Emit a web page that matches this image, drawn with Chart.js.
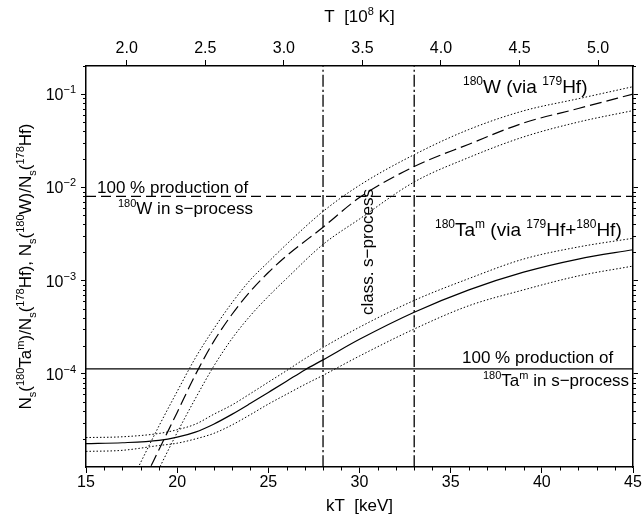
<!DOCTYPE html>
<html>
<head>
<meta charset="utf-8">
<script src="https://cdn.jsdelivr.net/npm/chart.js@4/dist/chart.umd.min.js"></script>
<style>
  body { margin: 0; background: #fff; }
  #wrap { width: 642px; height: 515px; }
</style>
</head>
<body>
<div id="wrap"><canvas id="grafico" width="642" height="515"></canvas></div>
<script>
/* Datos */
var kT_Ta = [15, 17, 19, 20, 21, 22, 23, 24, 25, 26, 27, 28, 30, 33, 36, 39, 42, 45];
var taCentral = [1.78e-5, 1.82e-5, 1.93e-5, 2.09e-5, 2.37e-5, 2.88e-5, 3.67e-5, 4.79e-5, 6.31e-5, 8.32e-5, 1.10e-4, 1.41e-4, 2.34e-4, 4.57e-4, 7.94e-4, 1.23e-3, 1.70e-3, 2.14e-3];
var taUpper = [2.07e-5, 2.11e-5, 2.29e-5, 2.51e-5, 2.88e-5, 3.67e-5, 4.62e-5, 6.10e-5, 8.13e-5, 1.08e-4, 1.45e-4, 1.91e-4, 3.16e-4, 6.12e-4, 1.05e-3, 1.70e-3, 2.29e-3, 2.84e-3];
var taLower = [1.47e-5, 1.51e-5, 1.70e-5, 1.80e-5, 2.00e-5, 2.29e-5, 2.82e-5, 3.63e-5, 4.73e-5, 6.03e-5, 7.67e-5, 9.62e-5, 1.55e-4, 3.02e-4, 5.37e-4, 7.94e-4, 1.12e-3, 1.43e-3];

var kT_W = [17, 18, 19, 20, 21, 22, 23, 24, 25, 26, 28, 30, 33, 36, 39, 42, 45];
var wCentral = [2.24e-6, 6.03e-6, 1.53e-5, 3.85e-5, 9.77e-5, 2.21e-4, 4.32e-4, 7.59e-4, 1.22e-3, 1.84e-3, 3.73e-3, 7.76e-3, 1.67e-2, 2.90e-2, 4.90e-2, 7.00e-2, 1.00e-1];
var wUpper = [4.47e-6, 1.12e-5, 2.75e-5, 6.46e-5, 1.48e-4, 3.02e-4, 5.75e-4, 1.01e-3, 1.58e-3, 2.45e-3, 5.51e-3, 1.05e-2, 2.24e-2, 4.17e-2, 6.61e-2, 8.91e-2, 1.20e-1];
var wLower = [1.58e-6, 3.80e-6, 9.55e-6, 2.34e-5, 5.43e-5, 1.20e-4, 2.37e-4, 4.17e-4, 6.76e-4, 1.05e-3, 2.44e-3, 4.57e-3, 1.14e-2, 2.09e-2, 3.47e-2, 5.01e-2, 6.65e-2];

var wFullProd = 8.0e-3;     // 100 % produccion de 180W
var taFullProd = 1.13e-4;   // 100 % produccion de 180Ta^m
var classicalKT = [28, 33]; // rango del proceso s clasico

var kTRange = [15, 45];
var yRange = [1e-5, 0.2];
var kTTicks = [15, 20, 25, 30, 35, 40, 45];
var tTicks = [2.0, 2.5, 3.0, 3.5, 4.0, 4.5, 5.0];
var yDecades = [-1, -2, -3, -4];
var keVper1e8K = 8.617;

var FONT = "'Liberation Sans', Arial, Helvetica, sans-serif";

function puntos(xs, ys) {
    return xs.map(function (x, i) { return { x: x, y: ys[i] }; });
}

function linea(data, dash, width) {
    return {
        data: data,
        borderColor: '#000',
        borderWidth: width || 1,
        borderDash: dash || [],
        pointRadius: 0,
        fill: false,
        cubicInterpolationMode: 'monotone',
        xAxisID: 'x',
        yAxisID: 'y'
    };
}

/* texto con super y subindices: [texto, tipo] tipo '' | '^' | '_' */
function textoRico(ctx, partes, x, y, size, align, rot) {
    var small = Math.round(size * 0.64);
    ctx.save();
    ctx.translate(x, y);
    ctx.rotate(rot || 0);
    ctx.textBaseline = 'alphabetic';
    ctx.textAlign = 'left';
    var total = 0;
    partes.forEach(function (p) {
        ctx.font = (p[1] ? small : size) + 'px ' + FONT;
        total += ctx.measureText(p[0]).width;
    });
    var cx = align === 'center' ? -total / 2 : (align === 'right' ? -total : 0);
    partes.forEach(function (p) {
        ctx.font = (p[1] ? small : size) + 'px ' + FONT;
        var dy = p[1] === '^' ? -size * 0.42 : (p[1] === '_' ? size * 0.28 : 0);
        ctx.fillText(p[0], cx, dy);
        cx += ctx.measureText(p[0]).width;
    });
    ctx.restore();
}

var extras = {
    id: 'extras',
    afterDraw: function (chart) {
        var ctx = chart.ctx;
        var area = chart.chartArea;
        var sx = chart.scales.x, sy = chart.scales.y;
        ctx.save();
        ctx.fillStyle = '#000';
        ctx.strokeStyle = '#000';
        ctx.lineWidth = 1;

        /* marcas menores */
        ctx.beginPath();
        for (var k = kTRange[0] + 1; k < kTRange[1]; k++) {
            if (k % 5 === 0) continue;
            var px = Math.round(sx.getPixelForValue(k)) + 0.5;
            ctx.moveTo(px, area.bottom);
            ctx.lineTo(px, area.bottom + 3.5);
        }
        for (var d = -5; d <= -1; d++) {
            for (var m = 2; m <= 9; m++) {
                var v = m * Math.pow(10, d);
                if (v > yRange[1] * 1.001) continue;
                var py = Math.round(sy.getPixelForValue(v)) + 0.5;
                ctx.moveTo(area.left, py);
                ctx.lineTo(area.left - 3, py);
                ctx.moveTo(area.right, py);
                ctx.lineTo(area.right + 3, py);
            }
        }
        ctx.stroke();

        /* etiquetas del eje y: 10^-n */
        yDecades.forEach(function (d) {
            var py = sy.getPixelForValue(Math.pow(10, d));
            ctx.font = '11px ' + FONT;
            var ew = ctx.measureText('\u2212' + (-d)).width;
            ctx.textAlign = 'right';
            ctx.textBaseline = 'alphabetic';
            ctx.fillText('\u2212' + (-d), 76, py - 1);
            ctx.font = '16px ' + FONT;
            ctx.fillText('10', 76 - ew, py + 6);
        });

        /* titulos de los ejes */
        textoRico(ctx, [['kT  [keV]', '']], (area.left + area.right) / 2, 511, 17, 'center');
        textoRico(ctx, [['T  [10', ''], ['8', '^'], [' K]', '']], (area.left + area.right) / 2, 22, 17, 'center');
        textoRico(ctx, [
            ['N', ''], ['s', '_'], ['(', ''], ['180', '^'], ['Ta', ''], ['m', '^'], [')/N', ''], ['s', '_'],
            ['(', ''], ['178', '^'], ['Hf), N', ''], ['s', '_'], ['(', ''], ['180', '^'], ['W)/N', ''], ['s', '_'],
            ['(', ''], ['178', '^'], ['Hf)', '']
        ], 31, (area.top + area.bottom) / 2, 17, 'center', -Math.PI / 2);

        /* anotaciones */
        textoRico(ctx, [['180', '^'], ['W (via ', ''], ['179', '^'], ['Hf)', '']], 463, 93, 19, 'left');
        textoRico(ctx, [['180', '^'], ['Ta', ''], ['m', '^'], [' (via ', ''], ['179', '^'], ['Hf+', ''], ['180', '^'], ['Hf)', '']], 435, 236, 19, 'left');
        textoRico(ctx, [['100 % production of', '']], 97, 193, 17, 'left');
        textoRico(ctx, [['180', '^'], ['W in s\u2212process', '']], 118, 214, 17, 'left');
        textoRico(ctx, [['100 % production of', '']], 462, 363, 17, 'left');
        textoRico(ctx, [['180', '^'], ['Ta', ''], ['m', '^'], [' in s\u2212process', '']], 483, 386, 17, 'left');

        ctx.save();
        ctx.translate(373, 252);
        ctx.rotate(-Math.PI / 2);
        ctx.font = '17px ' + FONT;
        ctx.textAlign = 'center';
        ctx.textBaseline = 'alphabetic';
        ctx.fillText('class. s\u2212process', 0, 0);
        ctx.restore();

        ctx.restore();
    }
};

var marco = document.getElementById('grafico').getContext('2d');

var ejeNegro = { color: '#000', width: 1.5 };

var grafico = new Chart(marco, {
    type: 'line',
    data: {
        datasets: [
            linea(puntos(kT_W, wUpper), [1.5, 2], 1),
            linea(puntos(kT_W, wCentral), [12, 5], 1.2),
            linea(puntos(kT_W, wLower), [1.5, 2], 1),
            linea(puntos(kT_Ta, taUpper), [1.5, 2], 1),
            linea(puntos(kT_Ta, taCentral), [], 1.2),
            linea(puntos(kT_Ta, taLower), [1.5, 2], 1),
            linea(puntos(kTRange, [wFullProd, wFullProd]), [10, 5], 1.2),
            linea(puntos(kTRange, [taFullProd, taFullProd]), [], 1.2),
            linea(puntos([classicalKT[0], classicalKT[0]], yRange), [12, 3, 2, 3], 1.3),
            linea(puntos([classicalKT[1], classicalKT[1]], yRange), [12, 3, 2, 3], 1.3)
        ]
    },
    options: {
        responsive: false,
        animation: false,
        layout: { padding: 0 },
        plugins: {
            legend: { display: false },
            tooltip: { enabled: false }
        },
        scales: {
            x: {
                type: 'linear',
                position: 'bottom',
                min: kTRange[0],
                max: kTRange[1],
                afterBuildTicks: function (eje) {
                    eje.ticks = kTTicks.map(function (v) { return { value: v }; });
                },
                afterFit: function (eje) { eje.height = 48; },
                grid: { drawOnChartArea: false, tickLength: 6, color: '#000' },
                border: ejeNegro,
                ticks: { color: '#000', padding: 0, maxRotation: 0, font: { family: FONT, size: 16 } }
            },
            x2: {
                type: 'linear',
                position: 'top',
                min: kTRange[0] / keVper1e8K,
                max: kTRange[1] / keVper1e8K,
                afterBuildTicks: function (eje) {
                    eje.ticks = tTicks.map(function (v) { return { value: v }; });
                },
                afterFit: function (eje) { eje.height = 66; },
                grid: { drawOnChartArea: false, tickLength: 6, color: '#000' },
                border: ejeNegro,
                ticks: {
                    color: '#000', padding: 2, maxRotation: 0,
                    font: { family: FONT, size: 16 },
                    callback: function (v) { return v.toFixed(1); }
                }
            },
            y: {
                type: 'logarithmic',
                position: 'left',
                min: yRange[0],
                max: yRange[1],
                afterBuildTicks: function (eje) {
                    eje.ticks = yDecades.map(function (d) { return { value: Math.pow(10, d) }; });
                },
                afterFit: function (eje) { eje.width = 86; },
                grid: { drawOnChartArea: false, tickLength: 5, color: '#000' },
                border: ejeNegro,
                ticks: { display: false }
            },
            y2: {
                type: 'logarithmic',
                position: 'right',
                min: yRange[0],
                max: yRange[1],
                afterBuildTicks: function (eje) {
                    eje.ticks = yDecades.map(function (d) { return { value: Math.pow(10, d) }; });
                },
                afterFit: function (eje) { eje.width = 9; },
                grid: { drawOnChartArea: false, tickLength: 5, color: '#000' },
                border: ejeNegro,
                ticks: { display: false }
            }
        }
    },
    plugins: [extras]
});
</script>
</body>
</html>
